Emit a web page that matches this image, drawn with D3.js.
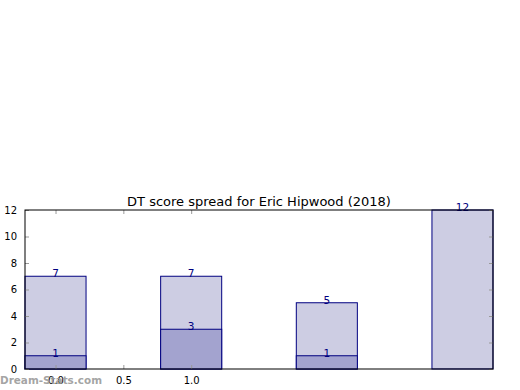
<!DOCTYPE html>
<html>
<head>
<meta charset="utf-8">
<script src="https://cdnjs.cloudflare.com/ajax/libs/d3/7.8.5/d3.min.js"></script>
<style>
  body { margin: 0; background: #fff; }
  text { font-family: "DejaVu Sans", sans-serif; }
</style>
</head>
<body>
<div id="chart"></div>
<script>
var title = "DT score spread for Eric Hipwood (2018)";
var positions = [0, 1, 2, 3];
var totals = [7, 7, 5, 12];
var inner = [1, 3, 1, 0];
var xTickValues = [0.0, 0.5, 1.0];
var yTickValues = [0, 2, 4, 6, 8, 10, 12];

var width = 520, height = 390;
var plotLeft = 25, plotRight = 493, plotTop = 210, plotBottom = 369;
var barWidth = 0.45;

var svg = d3.select("#chart").append("svg")
    .attr("width", width)
    .attr("height", height);

var x = d3.scaleLinear().domain([-0.225, 3.225]).range([plotLeft, plotRight]);
var y = d3.scaleLinear().domain([0, 12]).range([plotBottom, plotTop]);

// total bars
svg.selectAll("rect.total")
    .data(positions)
    .enter().append("rect")
    .attr("class", "total")
    .attr("x", function (d) { return x(d - barWidth / 2); })
    .attr("width", function (d) { return x(d + barWidth / 2) - x(d - barWidth / 2); })
    .attr("y", function (d, i) { return y(totals[i]); })
    .attr("height", function (d, i) { return y(0) - y(totals[i]); })
    .attr("style", "fill:#cdcde3;stroke:#000080;stroke-width:1");

// inner bars
svg.selectAll("rect.inner")
    .data(positions.filter(function (d, i) { return inner[i] > 0; }))
    .enter().append("rect")
    .attr("class", "inner")
    .attr("x", function (d) { return x(d - barWidth / 2); })
    .attr("width", function (d) { return x(d + barWidth / 2) - x(d - barWidth / 2); })
    .attr("y", function (d) { return y(inner[d]); })
    .attr("height", function (d) { return y(0) - y(inner[d]); })
    .attr("style", "fill:#a3a3cf;stroke:#000080;stroke-width:1");

// value labels
svg.selectAll("text.tot")
    .data(positions)
    .enter().append("text")
    .attr("x", function (d) { return x(d); })
    .attr("y", function (d, i) { return y(totals[i]) + 1; })
    .attr("text-anchor", "middle")
    .attr("font-size", 10.5)
    .attr("fill", "#000080")
    .text(function (d, i) { return totals[i]; });

svg.selectAll("text.inn")
    .data(positions.filter(function (d, i) { return inner[i] > 0; }))
    .enter().append("text")
    .attr("x", function (d) { return x(d); })
    .attr("y", function (d) { return y(inner[d]) + 1; })
    .attr("text-anchor", "middle")
    .attr("font-size", 10.5)
    .attr("fill", "#000080")
    .text(function (d) { return inner[d]; });

// axes (ticks inward on all four sides)
var tickColor = "#999";
svg.append("g")
    .attr("transform", "translate(0," + plotBottom + ")")
    .call(d3.axisBottom(x).tickValues(xTickValues).tickFormat(d3.format(".1f")).tickSizeInner(-4).tickSizeOuter(0).tickPadding(8))
    .call(function (g) {
        g.select(".domain").remove();
        g.selectAll("line").attr("stroke", tickColor);
        g.selectAll("text").attr("font-size", 10).attr("fill", "#000").attr("font-family", "DejaVu Sans");
    });
svg.append("g")
    .attr("transform", "translate(0," + plotTop + ")")
    .call(d3.axisTop(x).tickValues(xTickValues).tickFormat("").tickSizeInner(-4).tickSizeOuter(0))
    .call(function (g) {
        g.select(".domain").remove();
        g.selectAll("line").attr("stroke", tickColor);
    });
svg.append("g")
    .attr("transform", "translate(" + plotLeft + ",0)")
    .call(d3.axisLeft(y).tickValues(yTickValues).tickSizeInner(-4).tickSizeOuter(0).tickPadding(8))
    .call(function (g) {
        g.select(".domain").remove();
        g.selectAll("line").attr("stroke", tickColor);
        g.selectAll("text").attr("font-size", 10).attr("fill", "#000").attr("font-family", "DejaVu Sans");
    });
svg.append("g")
    .attr("transform", "translate(" + plotRight + ",0)")
    .call(d3.axisRight(y).tickValues(yTickValues).tickFormat("").tickSizeInner(-4).tickSizeOuter(0))
    .call(function (g) {
        g.select(".domain").remove();
        g.selectAll("line").attr("stroke", tickColor);
    });

// frame
svg.append("rect")
    .attr("x", plotLeft).attr("y", plotTop)
    .attr("width", plotRight - plotLeft).attr("height", plotBottom - plotTop)
    .attr("style", "fill:none;stroke:#000;stroke-width:1");

// title
svg.append("text")
    .attr("x", (plotLeft + plotRight) / 2)
    .attr("y", 206)
    .attr("text-anchor", "middle")
    .attr("font-size", 13)
    .attr("fill", "#000")
    .text(title);

// watermark
svg.append("text")
    .attr("x", 0)
    .attr("y", 384)
    .attr("font-size", 11)
    .attr("font-weight", "bold")
    .attr("textLength", 102)
    .attr("lengthAdjust", "spacingAndGlyphs")
    .attr("fill", "#999")
    .attr("fill-opacity", 0.9)
    .text("Dream-Stats.com");
</script>
</body>
</html>
